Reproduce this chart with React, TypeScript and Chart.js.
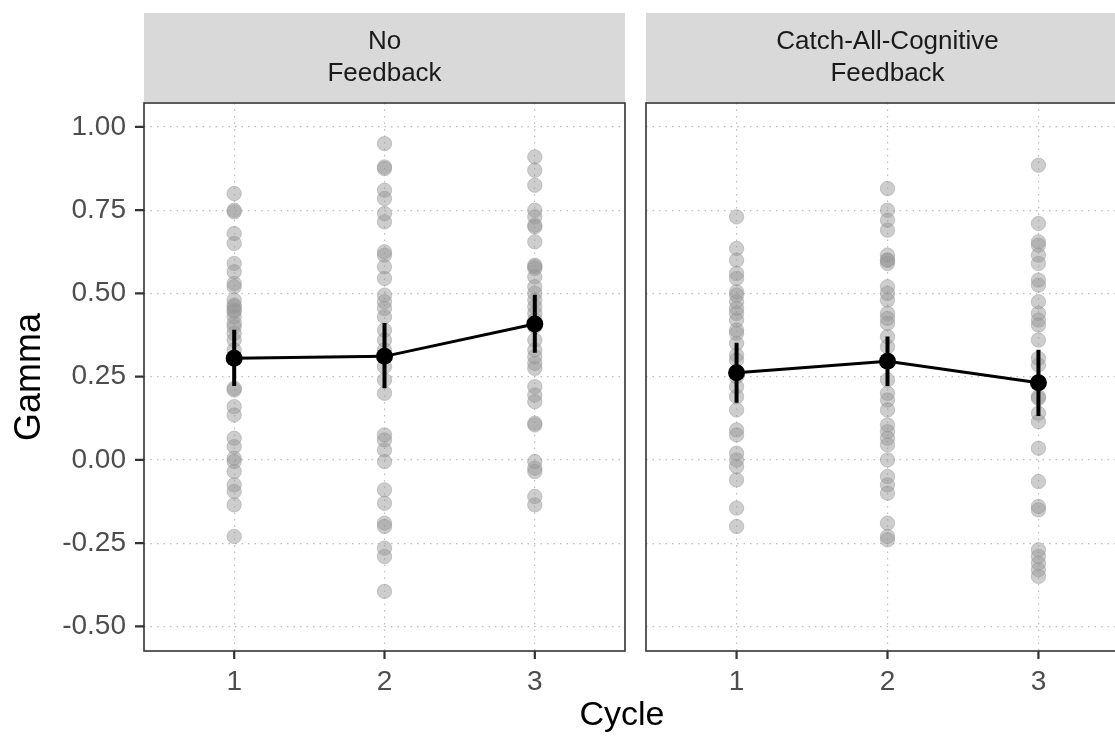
import { useEffect, useRef } from 'react';
import Chart from 'chart.js/auto';

const cycles = [1, 2, 3];
const yTickValues = [-0.5, -0.25, 0, 0.25, 0.5, 0.75, 1.0];
const stripNoFeedback = ['No', 'Feedback'];
const stripCatchAll = ['Catch-All-Cognitive', 'Feedback'];

// No Feedback: individual gamma values per cycle
const nfCycle1 = [0.80, 0.75, 0.745, 0.68, 0.65, 0.59, 0.565, 0.53, 0.52, 0.48, 0.465, 0.46, 0.45, 0.445, 0.43, 0.41, 0.40, 0.38, 0.36, 0.33, 0.215, 0.21, 0.16, 0.135, 0.065, 0.04, 0.005, -0.005, -0.035, -0.075, -0.095, -0.135, -0.23];
const nfCycle2 = [0.95, 0.88, 0.875, 0.81, 0.785, 0.74, 0.715, 0.625, 0.615, 0.58, 0.545, 0.495, 0.475, 0.455, 0.43, 0.39, 0.36, 0.33, 0.28, 0.24, 0.20, 0.075, 0.06, 0.03, -0.005, -0.09, -0.13, -0.19, -0.20, -0.265, -0.29, -0.395];
const nfCycle3 = [0.91, 0.87, 0.825, 0.75, 0.73, 0.70, 0.705, 0.655, 0.585, 0.58, 0.575, 0.55, 0.52, 0.50, 0.48, 0.46, 0.44, 0.42, 0.40, 0.36, 0.33, 0.31, 0.29, 0.275, 0.22, 0.195, 0.175, 0.11, 0.105, -0.005, -0.025, -0.035, -0.11, -0.135];
const nfMean = [0.305, 0.311, 0.408];
const nfLow = [0.222, 0.215, 0.322];
const nfHigh = [0.391, 0.411, 0.496];

// Catch-All-Cognitive Feedback
const cfCycle1 = [0.73, 0.635, 0.60, 0.56, 0.545, 0.505, 0.495, 0.475, 0.455, 0.44, 0.42, 0.39, 0.38, 0.35, 0.315, 0.30, 0.25, 0.22, 0.19, 0.15, 0.09, 0.075, 0.02, 0.0, -0.02, -0.06, -0.145, -0.20];
const cfCycle2 = [0.815, 0.75, 0.72, 0.69, 0.615, 0.60, 0.60, 0.59, 0.52, 0.50, 0.48, 0.44, 0.425, 0.41, 0.37, 0.34, 0.24, 0.20, 0.18, 0.15, 0.105, 0.085, 0.065, 0.045, 0.0, -0.05, -0.075, -0.10, -0.19, -0.23, -0.24];
const cfCycle3 = [0.885, 0.71, 0.655, 0.645, 0.615, 0.59, 0.54, 0.525, 0.475, 0.44, 0.42, 0.405, 0.36, 0.305, 0.285, 0.19, 0.185, 0.14, 0.115, 0.035, -0.065, -0.14, -0.15, -0.27, -0.29, -0.31, -0.33, -0.35];
const cfMean = [0.262, 0.296, 0.232];
const cfLow = [0.172, 0.222, 0.132];
const cfHigh = [0.352, 0.371, 0.331];

const FONT = "'Liberation Sans', Arial, Helvetica, sans-serif";
const W = 1115;
const H = 738;
const PANEL_TOP = 103;
const PANEL_BOTTOM = 651;
const STRIP_TOP = 13;
const STRIP_BOTTOM = 102;

function buildDatasets(groups: number[][], mean: number[], low: number[], high: number[]) {
  const raw: { x: number; y: number }[] = [];
  groups.forEach((vals, i) => vals.forEach((v) => raw.push({ x: cycles[i], y: v })));
  const errData: { x: number; y: number | null }[] = [];
  cycles.forEach((c, i) => {
    errData.push({ x: c, y: low[i] });
    errData.push({ x: c, y: high[i] });
    errData.push({ x: c + 0.5, y: null });
  });
  const meanData = cycles.map((c, i) => ({ x: c, y: mean[i] }));
  return [
    {
      type: 'scatter' as const,
      data: meanData,
      pointRadius: 8.5,
      pointBackgroundColor: '#000',
      pointBorderColor: '#000',
      pointBorderWidth: 0,
      order: 0,
    },
    {
      type: 'line' as const,
      data: errData,
      borderColor: '#000',
      borderWidth: 4,
      pointRadius: 0,
      spanGaps: false,
      order: 1,
    },
    {
      type: 'line' as const,
      data: meanData,
      borderColor: '#000',
      borderWidth: 3,
      pointRadius: 0,
      order: 2,
    },
    {
      type: 'scatter' as const,
      data: raw,
      pointRadius: 7.2,
      pointBackgroundColor: 'rgba(150,150,150,0.48)',
      pointBorderColor: 'rgba(150,150,150,0.45)',
      pointBorderWidth: 1,
      order: 3,
    },
  ];
}

function facetPlugin(strip: string[], showYTicks: boolean, drawXTitle: boolean) {
  return {
    id: 'facet',
    afterDraw(chart: any) {
      const { ctx, chartArea, scales } = chart;
      const { left, right, top, bottom } = chartArea;
      ctx.save();
      // strip
      ctx.fillStyle = '#d9d9d9';
      ctx.fillRect(left, STRIP_TOP, right - left, STRIP_BOTTOM - STRIP_TOP);
      ctx.fillStyle = '#1a1a1a';
      ctx.font = `26px ${FONT}`;
      ctx.textAlign = 'center';
      ctx.textBaseline = 'middle';
      const cx = (left + right) / 2;
      ctx.fillText(strip[0], cx, 42);
      ctx.fillText(strip[1], cx, 74);
      // panel border
      ctx.strokeStyle = '#333333';
      ctx.lineWidth = 1.6;
      ctx.strokeRect(left, top, right - left, bottom - top);
      // tick marks
      ctx.lineWidth = 2.2;
      ctx.beginPath();
      scales.x.ticks.forEach((t: any) => {
        const px = scales.x.getPixelForValue(t.value);
        ctx.moveTo(px, bottom);
        ctx.lineTo(px, bottom + 8);
      });
      if (showYTicks) {
        scales.y.ticks.forEach((t: any) => {
          const py = scales.y.getPixelForValue(t.value);
          ctx.moveTo(left - 9, py);
          ctx.lineTo(left, py);
        });
      }
      ctx.stroke();
      if (drawXTitle) {
        ctx.fillStyle = '#000';
        ctx.font = `34px ${FONT}`;
        ctx.textAlign = 'center';
        ctx.textBaseline = 'middle';
        ctx.fillText('Cycle', 622, 716);
      }
      ctx.restore();
    },
  };
}

function makeChart(
  canvas: HTMLCanvasElement,
  datasets: any[],
  strip: string[],
  first: boolean,
  canvasWidth: number,
  panelLeft: number,
  panelRight: number
) {
  const gridColor = '#bdbdbd';
  return new Chart(canvas, {
    type: 'scatter',
    data: { datasets },
    plugins: [facetPlugin(strip, first, first)],
    options: {
      responsive: false,
      animation: false,
      devicePixelRatio: 1,
      layout: {
        padding: {
          left: first ? 0 : panelLeft,
          right: canvasWidth - panelRight,
          top: PANEL_TOP,
          bottom: 0,
        },
      },
      plugins: {
        legend: { display: false },
        tooltip: { enabled: false },
      },
      scales: {
        x: {
          type: 'linear',
          min: 0.4,
          max: 3.6,
          afterBuildTicks: (scale: any) => {
            scale.ticks = cycles.map((c) => ({ value: c }));
          },
          afterFit: (scale: any) => {
            scale.height = H - PANEL_BOTTOM;
          },
          grid: {
            color: gridColor,
            lineWidth: 1.2,
            drawTicks: false,
          },
          border: { display: false, dash: [1.5, 5] },
          ticks: {
            color: '#4d4d4d',
            font: { family: FONT, size: 28 },
            padding: 14,
            maxRotation: 0,
            callback: (v: any) => String(v),
          },
        },
        y: {
          type: 'linear',
          min: -0.574,
          max: 1.072,
          afterBuildTicks: (scale: any) => {
            scale.ticks = yTickValues.map((v) => ({ value: v }));
          },
          afterFit: (scale: any) => {
            scale.width = first ? panelLeft : 0;
          },
          grid: {
            color: gridColor,
            lineWidth: 1.2,
            drawTicks: false,
          },
          border: { display: false, dash: [1.5, 5] },
          title: {
            display: first,
            text: 'Gamma',
            color: '#000',
            font: { family: FONT, size: 36 },
            padding: { top: 8, bottom: 0 },
          },
          ticks: {
            display: first,
            color: '#4d4d4d',
            font: { family: FONT, size: 28 },
            padding: 18,
            callback: (v: any) => Number(v).toFixed(2),
          },
        },
      },
    },
  } as any);
}

export default function App() {
  const refA = useRef<HTMLCanvasElement>(null);
  const refB = useRef<HTMLCanvasElement>(null);

  useEffect(() => {
    const dsA = buildDatasets([nfCycle1, nfCycle2, nfCycle3], nfMean, nfLow, nfHigh);
    const dsB = buildDatasets([cfCycle1, cfCycle2, cfCycle3], cfMean, cfLow, cfHigh);
    const a = makeChart(refA.current!, dsA, stripNoFeedback, true, W, 144, 625);
    const b = makeChart(refB.current!, dsB, stripCatchAll, false, 1140, 646, 1129);
    return () => {
      a.destroy();
      b.destroy();
    };
  }, []);

  return (
    <div
      style={{
        position: 'fixed',
        left: 0,
        top: 0,
        width: W,
        height: H,
        overflow: 'hidden',
        background: '#fff',
      }}
    >
      <canvas
        ref={refA}
        width={W}
        height={H}
        style={{ position: 'absolute', left: 0, top: 0, width: W, height: H }}
      />
      <canvas
        ref={refB}
        width={1140}
        height={H}
        style={{ position: 'absolute', left: 0, top: 0, width: 1140, height: H }}
      />
    </div>
  );
}
